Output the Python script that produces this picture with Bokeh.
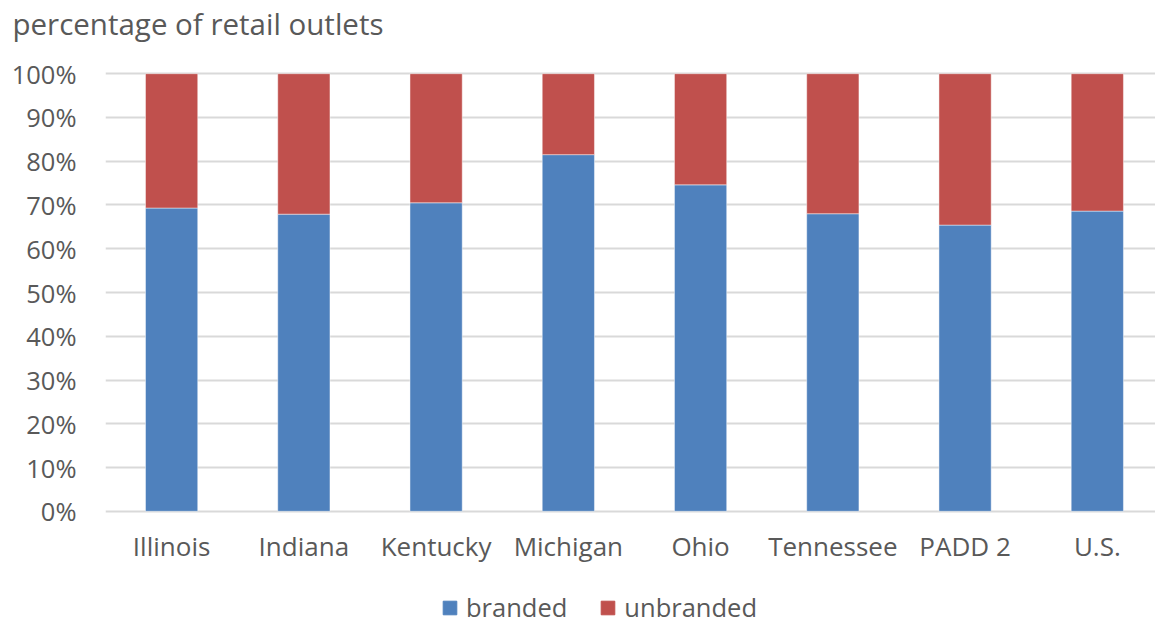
from bokeh.plotting import figure
from bokeh.layouts import column
from bokeh.models import (Range1d, FixedTicker, NumeralTickFormatter,
                          Legend, LegendItem, ColumnDataSource)
from bokeh.embed import file_html
from bokeh.resources import INLINE

regions = ["Illinois", "Indiana", "Kentucky", "Michigan", "Ohio",
           "Tennessee", "PADD 2", "U.S."]
branded = [0.693, 0.679, 0.705, 0.815, 0.746, 0.680, 0.654, 0.686]
unbranded = [1 - b for b in branded]
series = ["branded", "unbranded"]
heading = "percentage of retail outlets"

FONT = "Open Sans"
TEXT = "#595959"
BLUE = "#4f81bd"
RED = "#c0504d"
colors = [BLUE, RED]


def strip(height, **kw):
    """A bare full-width figure used for the heading and legend rows."""
    f = figure(width=1155, height=height, output_backend="svg",
               toolbar_location=None, x_range=Range1d(0, 1),
               y_range=Range1d(0, 1), min_border_left=0, min_border_right=0,
               min_border_top=0, min_border_bottom=0, **kw)
    f.axis.visible = False
    f.grid.visible = False
    f.outline_line_color = None
    return f


# heading row: the text is the strip's title, pulled to the page's left edge
head = strip(44, title=heading)
head.title.align = "left"
head.title.offset = -93
head.title.standoff = 0
head.title.text_font = FONT
head.title.text_font_size = "29.5px"
head.title.text_font_style = "normal"
head.title.text_color = TEXT

# main chart
xs = [i + 0.5 for i in range(len(regions))]
src = ColumnDataSource(dict(x=xs, branded=branded, unbranded=unbranded))

p = figure(width=1155, height=526, output_backend="svg", toolbar_location=None,
           x_range=Range1d(0, 7.94), y_range=Range1d(-0.005, 1.005),
           min_border_left=105, min_border_right=0,
           min_border_top=27, min_border_bottom=57)
p.outline_line_color = None
p.border_fill_color = "white"

p.vbar_stack(series, x="x", width=0.395, source=src, color=colors,
             line_color="white", line_alpha=0.45, line_width=1)

# y axis: percentage ticks every 10%
p.yaxis.ticker = FixedTicker(ticks=[i / 10 for i in range(11)])
p.yaxis.formatter = NumeralTickFormatter(format="0%")
p.yaxis.axis_line_color = None
p.yaxis.major_tick_line_color = None
p.yaxis.minor_tick_line_color = None
p.yaxis.major_label_text_font = FONT
p.yaxis.major_label_text_font_size = "25.5px"
p.yaxis.major_label_text_color = TEXT
p.yaxis.major_label_standoff = 23

# x axis: region names under each bar
p.xaxis.ticker = FixedTicker(ticks=xs)
p.xaxis.major_label_overrides = {x: name for x, name in zip(xs, regions)}
p.xaxis.axis_line_color = None
p.xaxis.major_tick_line_color = None
p.xaxis.minor_tick_line_color = None
p.xaxis.major_label_text_font = FONT
p.xaxis.major_label_text_font_size = "26px"
p.xaxis.major_label_text_color = TEXT
p.xaxis.major_label_standoff = 8

p.xgrid.grid_line_color = None
p.ygrid.grid_line_color = "#d9d9d9"
p.ygrid.grid_line_width = 2

# legend row; its swatch renderers sit outside the view
leg = strip(54)
swatches = [leg.vbar(x=[-5], top=[-5], bottom=[-6], width=0.1, color=c)
            for c in colors]
legend = Legend(items=[LegendItem(label=s, renderers=[r])
                       for s, r in zip(series, swatches)],
                orientation="horizontal", location=(336, 0),
                label_text_font=FONT, label_text_font_size="25.5px",
                label_text_color=TEXT, glyph_width=17, glyph_height=17,
                label_standoff=8, spacing=32, padding=0, margin=0,
                border_line_color=None, background_fill_alpha=0)
leg.add_layout(legend, "center")

page = column(head, p, leg, spacing=0)
open("out.html", "w").write(file_html(page, INLINE))
